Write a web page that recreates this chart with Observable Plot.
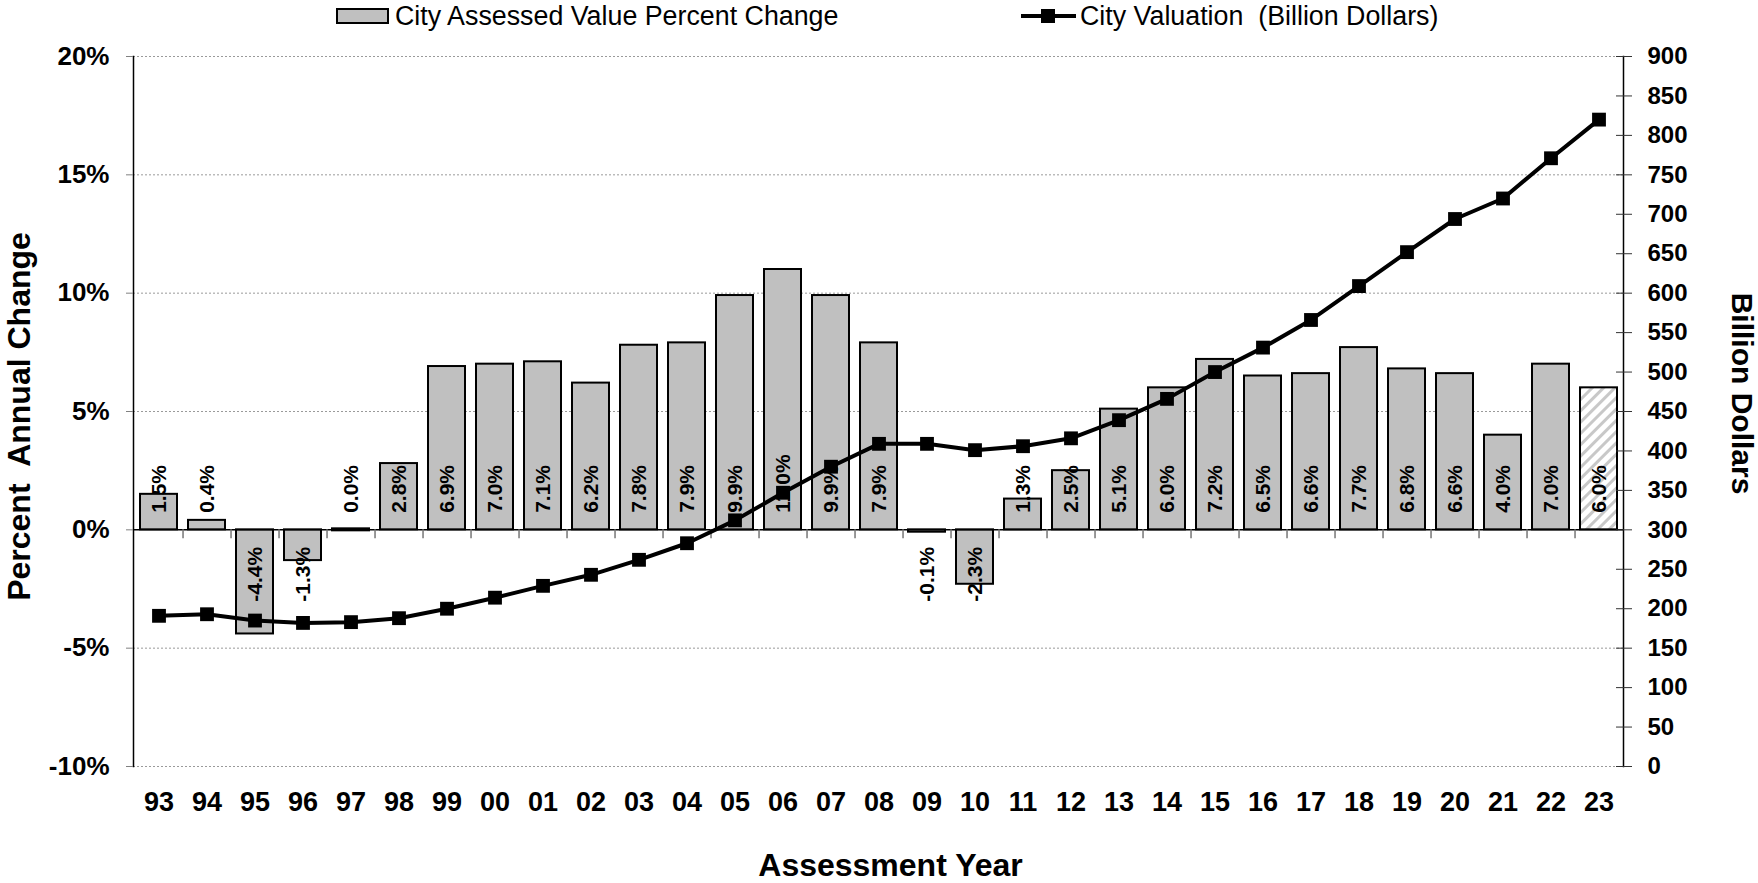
<!DOCTYPE html>
<html>
<head>
<meta charset="utf-8">
<script src="https://cdn.jsdelivr.net/npm/d3@7"></script>
<script src="https://cdn.jsdelivr.net/npm/@observablehq/plot@0.6"></script>
<style>
  html, body { margin: 0; padding: 0; background: #fff; }
  #legend text { font-family: "Liberation Sans", Arial, sans-serif; white-space: pre; }
</style>
</head>
<body>
<div id="chart"></div>
<script>
// ---- data ----
const years = ["93","94","95","96","97","98","99","00","01","02","03","04","05","06","07","08","09","10","11","12","13","14","15","16","17","18","19","20","21","22","23"];
const pctChange = [1.5, 0.4, -4.4, -1.3, 0.0, 2.8, 6.9, 7.0, 7.1, 6.2, 7.8, 7.9, 9.9, 11.0, 9.9, 7.9, -0.1, -2.3, 1.3, 2.5, 5.1, 6.0, 7.2, 6.5, 6.6, 7.7, 6.8, 6.6, 4.0, 7.0, 6.0];
const valuation = [191, 193, 185, 182, 183, 188, 200, 214, 229, 243, 262, 283, 312, 347, 380, 409, 409, 401, 406, 416, 439, 466, 500, 531, 566, 609, 652, 694, 720, 771, 820];
const projectedYears = ["23"];
const leftTicks = [-10, -5, 0, 5, 10, 15, 20];
const rightTicks = [0, 50, 100, 150, 200, 250, 300, 350, 400, 450, 500, 550, 600, 650, 700, 750, 800, 850, 900];
const seriesNames = ["City Assessed Value Percent Change", "City Valuation\u00a0 (Billion Dollars)"];
const xTitle = "Assessment Year";
const yLeftTitle = "Percent\u00a0 Annual Change";
const yRightTitle = "Billion Dollars";

// right axis (billions) maps linearly onto left axis (percent): 300 <-> 0%, 900 <-> 20%
const toPct = v => (v - 300) / 30;
const toBil = p => Math.round(p * 30 + 300);

const rows = years.map((y, i) => ({year: y, pct: pctChange[i], val: valuation[i], proj: projectedYears.includes(y)}));

// ---- layout ----
const W = 1758, LEGEND_H = 32, H = 883 - LEGEND_H;
const mL = 133, mR = 135, mT = 24, mB = 117;
const step = (W - mL - mR) / years.length;
const font = "Liberation Sans, Arial, sans-serif";

// legend (above svg)
const legend = d3.select("#chart").append("svg").attr("id", "legend")
  .attr("width", W).attr("height", LEGEND_H).style("display", "block");
legend.append("rect").attr("x", 337).attr("y", 9).attr("width", 51).attr("height", 14)
  .attr("fill", "#c0c0c0").attr("stroke", "#000").attr("stroke-width", 2);
legend.append("text").attr("x", 395).attr("y", 24.5).attr("font-size", 26.8).text(seriesNames[0]);
legend.append("line").attr("x1", 1021).attr("x2", 1076).attr("y1", 16).attr("y2", 16)
  .attr("stroke", "#000").attr("stroke-width", 4);
legend.append("rect").attr("x", 1041).attr("y", 9).attr("width", 14).attr("height", 14).attr("fill", "#000");
legend.append("text").attr("x", 1080).attr("y", 24.5).attr("font-size", 26.8).text(seriesNames[1]);

const chart = Plot.plot({
  width: W, height: H,
  marginLeft: mL, marginRight: mR, marginTop: mT, marginBottom: mB,
  style: {fontFamily: font, background: "#fff", overflow: "visible"},
  x: {domain: years, paddingInner: 0.23, paddingOuter: 0.115, axis: null},
  y: {domain: [-10, 20], axis: null},
  marks: [
    // gridlines
    Plot.ruleY(leftTicks.filter(d => d !== 0), {stroke: "#9a9a9a", strokeDasharray: "2,2", strokeWidth: 1}),
    // bars
    Plot.barY(rows.filter(d => !d.proj), {x: "year", y1: 0, y2: "pct", fill: "#c0c0c0", stroke: "#000", strokeWidth: 2}),
    Plot.barY(rows.filter(d => d.pct === 0), {x: "year", y1: 0, y2: "pct", insetTop: -1, insetBottom: -1, fill: "#000", stroke: "#000", strokeWidth: 2}),
    Plot.barY(rows.filter(d => d.proj), {x: "year", y1: 0, y2: "pct", fill: "url(#hatch)", stroke: "#000", strokeWidth: 2}),
    // zero line + category ticks
    Plot.ruleY([0], {stroke: "#000", strokeWidth: 1.5}),
    Plot.ruleX(years.slice(0, -1), {x: d => d, y1: 0, y2: -0.38, dx: step / 2, stroke: "#777", strokeWidth: 1.5}),
    // bar labels
    Plot.text(rows.filter(d => d.pct >= 0), {x: "year", y: 0, text: d => d.pct.toFixed(1) + "%", rotate: -90,
      textAnchor: "start", lineAnchor: "middle", dy: -17, fontSize: 21, fontWeight: "bold", fill: "#000"}),
    Plot.text(rows.filter(d => d.pct < 0), {x: "year", y: 0, text: d => d.pct.toFixed(1) + "%", rotate: -90,
      textAnchor: "end", lineAnchor: "middle", dy: 17, fontSize: 21, fontWeight: "bold", fill: "#000"}),
    // valuation line
    Plot.line(rows, {x: "year", y: d => toPct(d.val), stroke: "#000", strokeWidth: 4}),
    Plot.dot(rows, {x: "year", y: d => toPct(d.val), symbol: "square", r: 7.8, fill: "#000", stroke: "none"}),
    // axis lines
    Plot.frame({anchor: "left", stroke: "#000", strokeWidth: 1.5}),
    Plot.frame({anchor: "right", stroke: "#000", strokeWidth: 1.5}),
    // left axis
    Plot.axisY(leftTicks, {anchor: "left", tickSize: 7, tickPadding: 17, tickFormat: d => d + "%",
      fontSize: 26, fontWeight: "bold", stroke: "#808080", fill: "#000", label: null}),
    // right axis (crossing ticks)
    Plot.axisY(rightTicks.map(toPct), {anchor: "right", tickSize: 8, tickPadding: 16, tickFormat: d => String(toBil(d)),
      fontSize: 24, fontWeight: "bold", stroke: "#333", fill: "#000", label: null}),
    Plot.axisY(rightTicks.map(toPct), {anchor: "right", tickSize: 8, dx: -8, tickFormat: () => "", stroke: "#333", label: null}),
    // x axis labels
    Plot.axisX({anchor: "bottom", tickSize: 0, tickPadding: 25, fontSize: 27, fontWeight: "bold", fill: "#000", label: null}),
    // titles
    Plot.text([xTitle], {frameAnchor: "bottom", textAnchor: "middle", dx: 12, dy: 99, lineAnchor: "middle", fontSize: 32, fontWeight: "bold", fill: "#000"}),
    Plot.text([yLeftTitle], {frameAnchor: "left", textAnchor: "middle", dx: -114, dy: 5, rotate: -90, lineAnchor: "middle", fontSize: 32, fontWeight: "bold", fill: "#000"}),
    Plot.text([yRightTitle], {frameAnchor: "right", textAnchor: "middle", dx: 118, dy: -18, rotate: 90, lineAnchor: "middle", fontSize: 30, fontWeight: "bold", fill: "#000"})
  ]
});

// hatch pattern for projected bar
const defs = d3.select(chart).insert("defs", ":first-child");
const pat = defs.append("pattern").attr("id", "hatch").attr("patternUnits", "userSpaceOnUse")
  .attr("width", 8).attr("height", 8).attr("patternTransform", "rotate(45)");
pat.append("rect").attr("width", 8).attr("height", 8).attr("fill", "#fff");
pat.append("rect").attr("x", 0).attr("width", 3).attr("height", 8).attr("fill", "#c8c8c8");

d3.select(chart).style("display", "block");
document.getElementById("chart").appendChild(chart);
</script>
</body>
</html>
